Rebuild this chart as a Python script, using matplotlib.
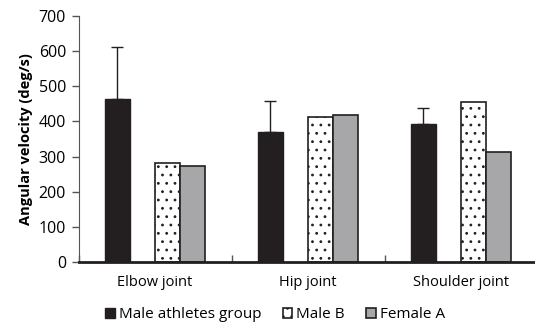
import matplotlib

matplotlib.use("Agg")
import matplotlib.pyplot as plt
import numpy as np

joints = ["Elbow joint", "Hip joint", "Shoulder joint"]
male_group = [463, 371, 394]
male_group_sd = [149, 86, 45]
male_b = [281, 413, 454]
female_a = [274, 418, 314]

plt.rcParams.update({"font.family": ["Open Sans", "DejaVu Sans"], "font.size": 10.5,
                     "hatch.linewidth": 0.8})

INK = "#231f20"
GREY = "#a7a7a9"

fig = plt.figure(figsize=(5.35, 3.24), dpi=100)
ax = fig.add_axes([78.5 / 535, 62 / 324, 459 / 535, 246 / 324])

x = np.arange(len(joints))
w = 0.1634
# four slots per joint; the second slot is left empty
ax.bar(x - 1.5 * w, male_group, w, color=INK, edgecolor=INK, lw=1,
       label="Male athletes group", zorder=2)
ax.errorbar(x - 1.5 * w, male_group, yerr=[np.zeros(3), male_group_sd], fmt="none",
            ecolor=INK, elinewidth=1, capsize=4, capthick=1, zorder=3)
ax.bar(x + 0.5 * w, male_b, w, color="white", edgecolor=INK, lw=1.2, hatch="..",
       label="Male B", zorder=2)
ax.bar(x + 1.5 * w, female_a, w, color=GREY, edgecolor=INK, lw=1.2,
       label="Female A", zorder=2)

ax.set_xlim(-0.5, 2.5)
ax.set_ylim(0, 700)
ax.set_yticks(range(0, 701, 100))
ax.set_xticks(x)
ax.set_xticklabels(joints)
ax.set_xticks([-0.5, 0.5, 1.5, 2.5], minor=True)
ax.tick_params(axis="x", which="major", length=0, pad=9)
ax.tick_params(axis="x", which="minor", direction="in", length=5, width=1, color="#555555")
ax.tick_params(axis="y", length=5, width=1, color="#555555", pad=4, labelsize=11.5)

for s in ["top", "right"]:
    ax.spines[s].set_visible(False)
ax.spines["left"].set_color("#555555")
ax.spines["bottom"].set_linewidth(2)
ax.spines["bottom"].set_color(INK)

ax.set_ylabel("Angular velocity (deg/s)", fontweight="bold", labelpad=4)

ax.legend(loc="center", bbox_to_anchor=(275 / 535, 9.5 / 324), bbox_transform=fig.transFigure,
          ncol=3, frameon=False, handlelength=0.65, handleheight=0.65, handletextpad=0.25,
          columnspacing=1.4, fontsize=11)

fig.savefig("out.png", dpi=100)
